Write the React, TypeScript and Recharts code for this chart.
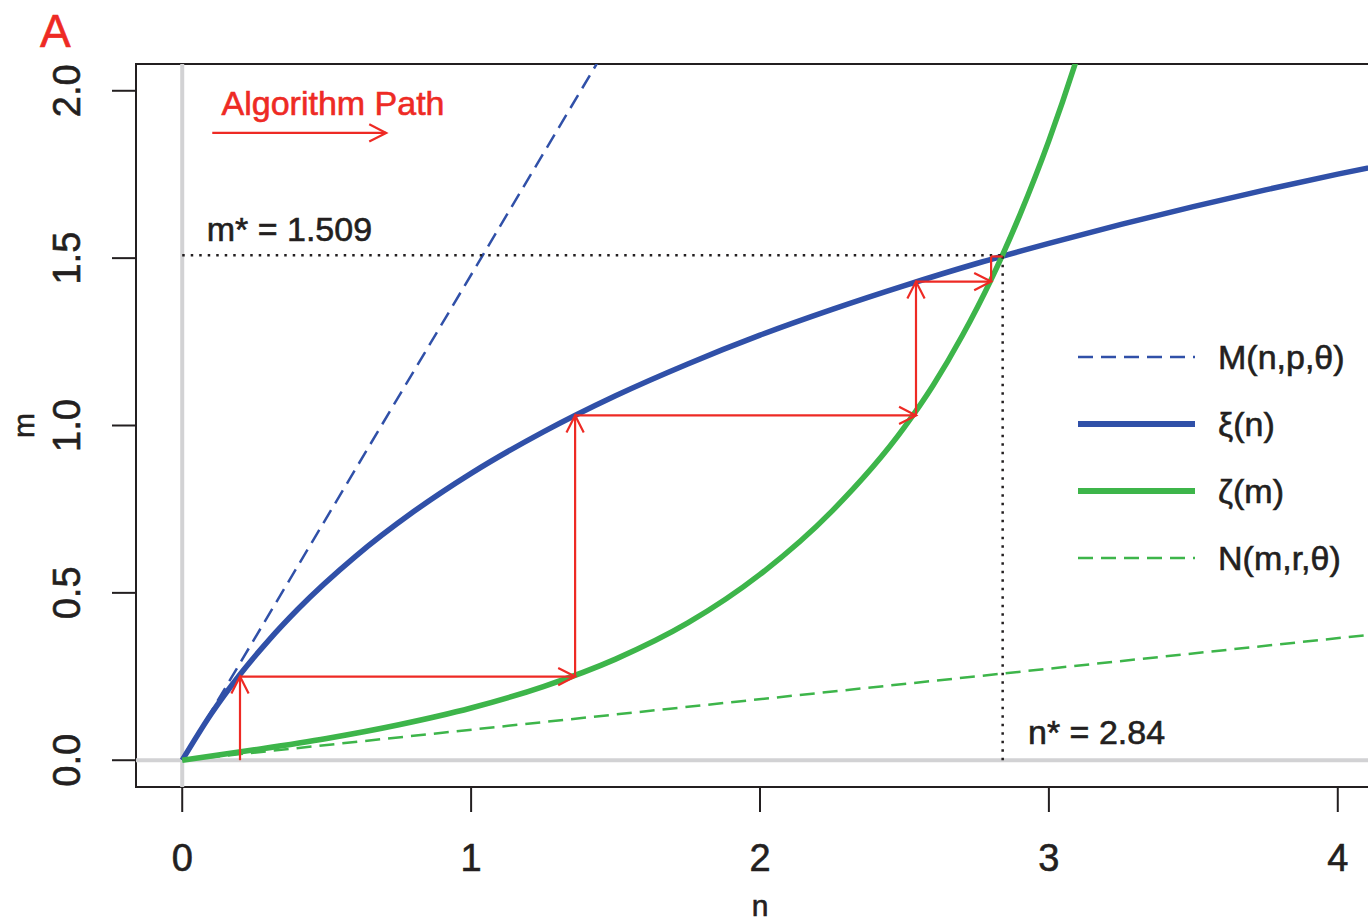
import React from 'react';
import { ComposedChart, Line, XAxis, YAxis, ReferenceLine, ReferenceDot, ReferenceArea } from 'recharts';

const FONT = '"Liberation Sans", Arial, Helvetica, sans-serif';
const BLUE = '#3050A8';
const GREEN = '#3DB54A';
const RED = '#EE2A24';
const GRAY = '#D2D2D4';
const INK = '#231F20';

// xi(n): thick blue curve
const xiN = [0, 0.1, 0.2, 0.3, 0.4, 0.6, 0.8, 1.0, 1.25, 1.5, 1.75, 2.0, 2.25, 2.5, 2.75, 3.0, 3.25, 3.5, 3.75, 4.0, 4.25];
const xiM = [0, 0.138, 0.256, 0.359, 0.451, 0.609, 0.742, 0.857, 0.981, 1.089, 1.184, 1.27, 1.347, 1.418, 1.484, 1.544, 1.601, 1.654, 1.704, 1.751, 1.795];

// zeta(m): thick green curve
const zetaN = [0, 0.25, 0.5, 0.75, 1.0, 1.25, 1.5, 1.75, 2.0, 2.25, 2.5, 2.6, 2.7, 2.8, 2.9, 3.0, 3.1, 3.2];
const zetaM = [0, 0.031, 0.065, 0.106, 0.156, 0.22, 0.302, 0.41, 0.555, 0.745, 0.995, 1.121, 1.268, 1.436, 1.63, 1.851, 2.105, 2.395];

// M(n,p,theta): dashed blue
const mN = [0, 1.6];
const mM = [0, 2.32];

// N(m,r,theta): dashed green
const nN = [0, 4.3];
const nM = [0, 0.392];

// algorithm path (red arrows)
const pathN = [0.2, 0.2, 1.36, 1.36, 2.54, 2.54, 2.8, 2.8, 2.84];
const pathM = [0, 0.25, 0.25, 1.03, 1.03, 1.43, 1.43, 1.505, 1.505];
const pathHeads = [true, true, true, true, true, true, false, false];

// fixed point
const nStar = 2.84;
const mStar = 1.509;

const xTicks = [0, 1, 2, 3, 4];
const yTicks = [0, 0.5, 1, 1.5, 2];

const legendLabels = ['M(n,p,\u03b8)', '\u03be(n)', '\u03b6(m)', 'N(m,r,\u03b8)'];
const legendColors = [BLUE, BLUE, GREEN, GREEN];
const legendDashed = [true, false, false, true];

const toPts = (xs: number[], ys: number[]) => xs.map((n, i) => ({ n, m: ys[i] }));

const makeArrow = (head: boolean, color: string) => (p: any) => {
  const { x1, y1, x2, y2 } = p;
  const ang = Math.atan2(y2 - y1, x2 - x1);
  const L = 19;
  const A = (27 * Math.PI) / 180;
  const hx1 = x2 - L * Math.cos(ang - A);
  const hy1 = y2 - L * Math.sin(ang - A);
  const hx2 = x2 - L * Math.cos(ang + A);
  const hy2 = y2 - L * Math.sin(ang + A);
  return (
    <g>
      <line x1={x1} y1={y1} x2={x2} y2={y2} stroke={color} strokeWidth={2.2} />
      {head && (
        <polyline points={`${hx1},${hy1} ${x2},${y2} ${hx2},${hy2}`} fill="none" stroke={color} strokeWidth={2.2} />
      )}
    </g>
  );
};

const heavy = (color: string) => ({ stroke: color, strokeWidth: 0.6 });

const textShape = (label: string, color: string, size: number) => (p: any) => (
  <text x={p.cx} y={p.cy} textAnchor="middle" dominantBaseline="central" fontFamily={FONT} fontSize={size} fill={color} {...heavy(color)}>
    {label}
  </text>
);

export default function App() {
  const segs = [] as React.ReactNode[];
  for (let i = 0; i < pathN.length - 1; i++) {
    segs.push(
      <ReferenceLine
        key={`p${i}`}
        segment={[{ x: pathN[i], y: pathM[i] }, { x: pathN[i + 1], y: pathM[i + 1] }]}
        ifOverflow="visible"
        shape={makeArrow(pathHeads[i], RED)}
      />
    );
  }
  return (
    <div style={{ position: 'absolute', left: 0, top: 0, width: 1368, height: 922, overflow: 'hidden', background: '#fff' }}>
      <ComposedChart width={1400} height={922} margin={{ top: 64, right: 16, bottom: 0, left: 0 }}>
        <XAxis
          type="number"
          dataKey="n"
          domain={[-0.16, 4.16]}
          allowDataOverflow
          ticks={xTicks}
          axisLine={false}
          tickLine={{ stroke: INK, strokeWidth: 2 }}
          tickSize={25}
          tickMargin={2}
          height={135}
          interval={0}
          tick={(p: any) => (
            <text x={p.x} y={p.y + 57} textAnchor="middle" fontFamily={FONT} fontSize={38} fill={INK} {...heavy(INK)}>
              {p.payload.value}
            </text>
          )}
          label={{
            content: (p: any) => (
              <text x={p.viewBox.x + p.viewBox.width / 2} y={p.viewBox.y + 129} textAnchor="middle" fontFamily={FONT} fontSize={30} fill={INK} {...heavy(INK)}>
                n
              </text>
            ),
          }}
        />
        <YAxis
          type="number"
          dataKey="m"
          domain={[-0.08, 2.08]}
          allowDataOverflow
          ticks={yTicks}
          axisLine={false}
          tickLine={{ stroke: INK, strokeWidth: 2 }}
          tickSize={24}
          tickMargin={2}
          width={136}
          interval={0}
          tick={(p: any) => (
            <text
              x={p.x - 30}
              y={p.y}
              transform={`rotate(-90, ${p.x - 30}, ${p.y})`}
              textAnchor="middle"
              fontFamily={FONT}
              fontSize={38}
              fill={INK}
              {...heavy(INK)}
            >
              {Number(p.payload.value).toFixed(1)}
            </text>
          )}
          label={{
            content: (p: any) => {
              const cx = p.viewBox.x + 34;
              const cy = p.viewBox.y + p.viewBox.height / 2;
              return (
                <text x={cx} y={cy} transform={`rotate(-90, ${cx}, ${cy})`} textAnchor="middle" fontFamily={FONT} fontSize={30} fill={INK} {...heavy(INK)}>
                  m
                </text>
              );
            },
          }}
        />
        <ReferenceLine x={0} stroke={GRAY} strokeWidth={4} />
        <ReferenceLine y={0} stroke={GRAY} strokeWidth={4} />
        <ReferenceArea x1={-0.16} x2={4.16} y1={-0.08} y2={2.08} fill="none" stroke={INK} strokeWidth={2} ifOverflow="visible" />

        <Line data={toPts(mN, mM)} dataKey="m" type="linear" stroke={BLUE} strokeWidth={2.5} strokeDasharray="15 8" dot={false} activeDot={false} isAnimationActive={false} />
        <Line data={toPts(nN, nM)} dataKey="m" type="linear" stroke={GREEN} strokeWidth={2.5} strokeDasharray="15 8" dot={false} activeDot={false} isAnimationActive={false} />
        <Line data={toPts(xiN, xiM)} dataKey="m" type="monotone" stroke={BLUE} strokeWidth={5.5} dot={false} activeDot={false} isAnimationActive={false} />
        <Line data={toPts(zetaN, zetaM)} dataKey="m" type="monotone" stroke={GREEN} strokeWidth={5.5} dot={false} activeDot={false} isAnimationActive={false} />

        <ReferenceLine segment={[{ x: 0, y: mStar }, { x: nStar, y: mStar }]} stroke={INK} strokeWidth={2.5} strokeDasharray="2.5 6" ifOverflow="visible" />
        <ReferenceLine segment={[{ x: nStar, y: 0 }, { x: nStar, y: mStar }]} stroke={INK} strokeWidth={2.5} strokeDasharray="2.5 6" ifOverflow="visible" />

        {segs}

        <ReferenceLine segment={[{ x: 0.104, y: 1.874 }, { x: 0.706, y: 1.874 }]} ifOverflow="visible" shape={makeArrow(true, RED)} />
        <ReferenceDot x={0.522} y={1.964} r={0} ifOverflow="visible" shape={textShape('Algorithm Path', RED, 34)} />
        <ReferenceDot x={0.371} y={1.587} r={0} ifOverflow="visible" shape={textShape(`m* = ${mStar.toFixed(3)}`, INK, 34)} />
        <ReferenceDot x={3.165} y={0.084} r={0} ifOverflow="visible" shape={textShape(`n* = ${nStar.toFixed(2)}`, INK, 34)} />
      </ComposedChart>
      <svg width={1368} height={922} style={{ position: 'absolute', left: 0, top: 0, pointerEvents: 'none' }}>
        <text x={40} y={47} fontFamily={FONT} fontSize={46} fill={RED} {...heavy(RED)}>
          A
        </text>
        {legendLabels.map((lab, i) => {
          const y = 357 + i * 67;
          return (
            <g key={lab}>
              <line
                x1={1078}
                x2={1195}
                y1={y}
                y2={y}
                stroke={legendColors[i]}
                strokeWidth={legendDashed[i] ? 2.5 : 6}
                strokeDasharray={legendDashed[i] ? '15 8' : undefined}
              />
              <text x={1218} y={y} dominantBaseline="central" fontFamily={FONT} fontSize={34} fill={INK} {...heavy(INK)}>
                {lab}
              </text>
            </g>
          );
        })}
      </svg>
    </div>
  );
}
